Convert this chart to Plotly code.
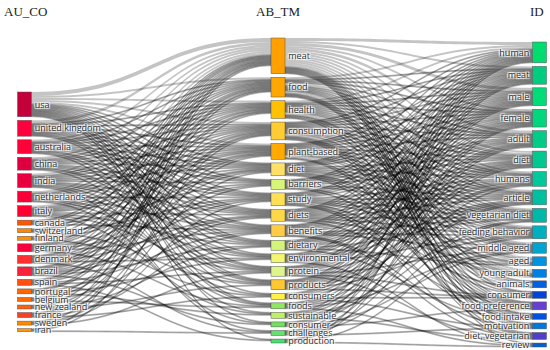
import plotly.graph_objects as go

# three fields: countries -> abstract terms -> keywords plus
au_co = ["usa", "united kingdom", "australia", "china", "india", "netherlands",
         "italy", "canada", "switzerland", "finland", "germany", "denmark",
         "brazil", "spain", "portugal", "belgium", "new zealand", "france",
         "sweden", "iran"]
ab_tm = ["meat", "food", "health", "consumption", "plant-based", "diet",
         "barriers", "study", "diets", "benefits", "dietary", "environmental",
         "protein", "products", "consumers", "foods", "sustainable", "consumer",
         "challenges", "production"]
kw_id = ["human", "meat", "male", "female", "adult", "diet", "humans", "article",
         "vegetarian diet", "feeding behavior", "middle aged", "aged",
         "young adult", "animals", "consumer", "food preference", "food intake",
         "motivation", "diet, vegetarian", "review"]

au_co_colors = ["#c4003a", "#ff003c", "#ff0038", "#dc0040", "#e8003e", "#fa0038",
                "#ff0032", "#ff5500", "#ff8800", "#ff9000", "#f8003a", "#ff3030",
                "#f8203c", "#ff5010", "#ff6800", "#ff6a00", "#ff6010", "#f84028",
                "#ff8a00", "#ff9810"]
ab_tm_colors = ["#ffa000", "#ffa600", "#ffc000", "#ffcc33", "#ffaa00", "#ffe066",
                "#d8f57a", "#ffe055", "#ffd84a", "#ffcc44", "#d4f478", "#f4f570",
                "#def58a", "#ffc830", "#fff04a", "#90e860", "#bef064", "#70e060",
                "#66e070", "#44e070"]
kw_id_colors = ["#00dd6e", "#00cc80", "#00dc78", "#00d67e", "#00cc88", "#00c890",
                "#00c89c", "#00c0a0", "#00b8a8", "#00b0c0", "#00a4d0", "#0094e0",
                "#0080e0", "#0060e0", "#0044d8", "#6640d0", "#0050e0", "#0078e0",
                "#5040c8", "#0060d0"]

# rows: AU_CO, columns: AB_TM
co_tm = [
    [4, 2, 2, 2, 2, 1, 1, 1, 1, 1, 1, 1, 1, 1, 1, 1, 0, 1, 0, 1],
    [3, 1, 1, 1, 1, 1, 1, 1, 1, 1, 1, 0, 1, 1, 0, 1, 0, 0, 0, 0],
    [2, 1, 1, 1, 1, 1, 1, 1, 1, 0, 1, 1, 0, 1, 0, 0, 1, 0, 0, 0],
    [2, 1, 1, 1, 1, 1, 0, 1, 1, 1, 0, 1, 1, 0, 0, 1, 0, 0, 0, 0],
    [2, 1, 1, 1, 1, 1, 1, 0, 1, 1, 1, 0, 1, 0, 1, 0, 0, 0, 1, 0],
    [2, 1, 1, 1, 1, 0, 0, 1, 0, 1, 0, 1, 0, 1, 0, 0, 0, 1, 0, 0],
    [2, 1, 1, 1, 1, 1, 0, 0, 1, 0, 1, 0, 1, 0, 0, 0, 1, 0, 0, 0],
    [1, 1, 0, 0, 1, 0, 1, 0, 0, 1, 0, 0, 0, 0, 0, 0, 0, 0, 0, 0],
    [1, 0, 1, 0, 0, 0, 0, 1, 0, 0, 0, 0, 0, 1, 0, 0, 0, 0, 0, 0],
    [1, 0, 0, 1, 0, 1, 0, 0, 0, 0, 0, 0, 0, 0, 1, 0, 0, 0, 0, 0],
    [1, 1, 1, 0, 1, 1, 0, 1, 0, 1, 0, 0, 0, 0, 0, 1, 0, 0, 0, 0],
    [1, 1, 0, 1, 1, 0, 1, 0, 1, 0, 0, 1, 0, 0, 0, 0, 0, 0, 1, 0],
    [1, 1, 1, 1, 0, 1, 0, 1, 1, 0, 1, 0, 0, 0, 0, 0, 0, 1, 0, 0],
    [1, 0, 1, 0, 1, 0, 0, 0, 0, 1, 0, 0, 1, 0, 0, 0, 0, 0, 0, 1],
    [1, 1, 0, 0, 0, 0, 1, 0, 0, 0, 0, 1, 0, 0, 0, 0, 1, 0, 0, 0],
    [0, 1, 0, 1, 0, 0, 0, 0, 1, 0, 0, 0, 0, 0, 0, 1, 0, 0, 0, 0],
    [1, 0, 0, 1, 0, 0, 0, 0, 0, 0, 1, 0, 0, 1, 0, 0, 0, 0, 0, 0],
    [1, 0, 1, 0, 1, 0, 0, 0, 0, 1, 0, 0, 0, 0, 1, 0, 0, 0, 0, 0],
    [0, 1, 0, 0, 0, 1, 0, 1, 0, 0, 0, 0, 1, 0, 0, 0, 0, 0, 0, 0],
    [1, 0, 0, 1, 0, 0, 0, 0, 0, 0, 0, 0, 0, 0, 0, 0, 0, 0, 1, 0],
]

# rows: AB_TM, columns: ID
tm_id = [
    [3, 2, 3, 2, 3, 2, 2, 2, 2, 2, 2, 2, 2, 1, 1, 1, 1, 1, 1, 1],
    [2, 1, 1, 1, 1, 2, 1, 1, 1, 1, 1, 1, 2, 0, 1, 1, 1, 1, 0, 0],
    [2, 1, 1, 1, 1, 1, 1, 1, 1, 1, 1, 2, 1, 1, 0, 1, 0, 0, 1, 0],
    [1, 1, 1, 1, 1, 1, 1, 1, 1, 1, 1, 0, 1, 2, 1, 1, 1, 0, 1, 0],
    [1, 1, 1, 1, 1, 1, 1, 1, 1, 1, 1, 1, 0, 2, 0, 1, 0, 1, 0, 0],
    [1, 1, 1, 1, 0, 1, 1, 1, 1, 1, 0, 1, 1, 0, 1, 0, 1, 0, 0, 0],
    [1, 1, 1, 1, 1, 1, 0, 1, 1, 0, 0, 0, 1, 0, 0, 1, 0, 0, 0, 0],
    [1, 1, 1, 1, 1, 0, 1, 1, 1, 1, 1, 0, 0, 1, 0, 0, 1, 0, 1, 0],
    [1, 1, 1, 1, 1, 1, 1, 1, 1, 1, 0, 1, 0, 0, 0, 1, 0, 0, 0, 0],
    [1, 1, 1, 1, 1, 1, 1, 0, 1, 1, 1, 0, 0, 0, 0, 0, 0, 1, 1, 0],
    [1, 1, 1, 1, 1, 1, 1, 0, 1, 0, 0, 1, 0, 0, 0, 0, 1, 0, 0, 0],
    [1, 1, 1, 1, 0, 1, 1, 1, 0, 1, 0, 0, 0, 0, 0, 0, 0, 0, 0, 1],
    [1, 1, 1, 1, 1, 1, 0, 1, 0, 0, 1, 0, 0, 0, 1, 0, 0, 0, 1, 0],
    [1, 1, 1, 1, 1, 1, 1, 1, 0, 1, 0, 0, 0, 0, 1, 0, 0, 0, 0, 0],
    [1, 0, 1, 0, 1, 0, 1, 0, 0, 0, 0, 0, 0, 0, 1, 0, 0, 1, 0, 0],
    [0, 1, 0, 1, 0, 1, 0, 1, 0, 0, 1, 0, 0, 0, 0, 0, 0, 0, 0, 1],
    [1, 0, 1, 0, 1, 0, 0, 1, 1, 0, 0, 0, 0, 0, 0, 0, 0, 0, 1, 0],
    [0, 1, 0, 1, 0, 1, 0, 0, 0, 0, 1, 0, 0, 0, 0, 1, 0, 0, 0, 0],
    [1, 0, 0, 0, 1, 0, 1, 0, 1, 0, 0, 0, 0, 0, 0, 0, 0, 1, 0, 0],
    [0, 1, 0, 1, 0, 0, 0, 0, 0, 1, 0, 0, 0, 0, 0, 0, 0, 0, 0, 1],
]

W, H_FIG = 550, 350
M_TOP, M_BOT = 38, 7
H = H_FIG - M_TOP - M_BOT
PAD = 3.6
THICK = 14

n1, n2, n3 = len(au_co), len(ab_tm), len(kw_id)
source, target, value = [], [], []
for i, row in enumerate(co_tm):
    for j, v in enumerate(row):
        if v:
            source.append(i)
            target.append(n1 + j)
            value.append(v)
for i, row in enumerate(tm_id):
    for j, v in enumerate(row):
        if v:
            source.append(n1 + i)
            target.append(n1 + n2 + j)
            value.append(v)

# node sizes as the sankey computes them: max(in, out)
v1 = [sum(r) for r in co_tm]
v2 = [max(sum(co_tm[k][j] for k in range(n1)), sum(tm_id[j])) for j in range(n2)]
v3 = [sum(tm_id[k][j] for k in range(n2)) for j in range(n3)]
ky = min((H - (len(v) - 1) * PAD) / sum(v) for v in (v1, v2, v3))


def stack(vals, top):
    ys, y = [], top
    for v in vals:
        h = v * ky
        ys.append((y + h / 2) / H)
        y += h + PAD
    return ys


node_x = [24.5 / W] * n1 + [278 / W] * n2 + [539.5 / W] * n3
node_y = stack(v1, 54) + stack(v2, 0) + stack(v3, 4)

fig = go.Figure(go.Sankey(
    arrangement="fixed",
    node=dict(
        label=au_co + ab_tm + kw_id,
        color=au_co_colors + ab_tm_colors + kw_id_colors,
        x=node_x,
        y=node_y,
        pad=PAD,
        thickness=THICK,
        line=dict(color="#555", width=0.5),
    ),
    link=dict(source=source, target=target, value=value,
              color="rgba(0,0,0,0.23)"),
    textfont=dict(family="Open Sans", size=9, color="#333"),
))

head_y = 1 + (M_TOP - 12) / H
for txt, x, anchor in [("AU_CO", 2 / W, "left"), ("AB_TM", 278 / W, "center"),
                       ("ID", 537 / W, "center")]:
    fig.add_annotation(text=txt, x=x, y=head_y, xref="paper", yref="paper",
                       xanchor=anchor, yanchor="middle", showarrow=False,
                       font=dict(family="Liberation Serif", size=13, color="#222"))

fig.update_layout(width=W, height=H_FIG,
                  margin=dict(l=0, r=0, t=M_TOP, b=M_BOT),
                  paper_bgcolor="white", plot_bgcolor="white")
# the page body carries a default 8px margin; drop it so the figure sits at 0,0
fig.write_html("out.html", config={"displayModeBar": False},
               post_script="document.body.style.margin='0';")
